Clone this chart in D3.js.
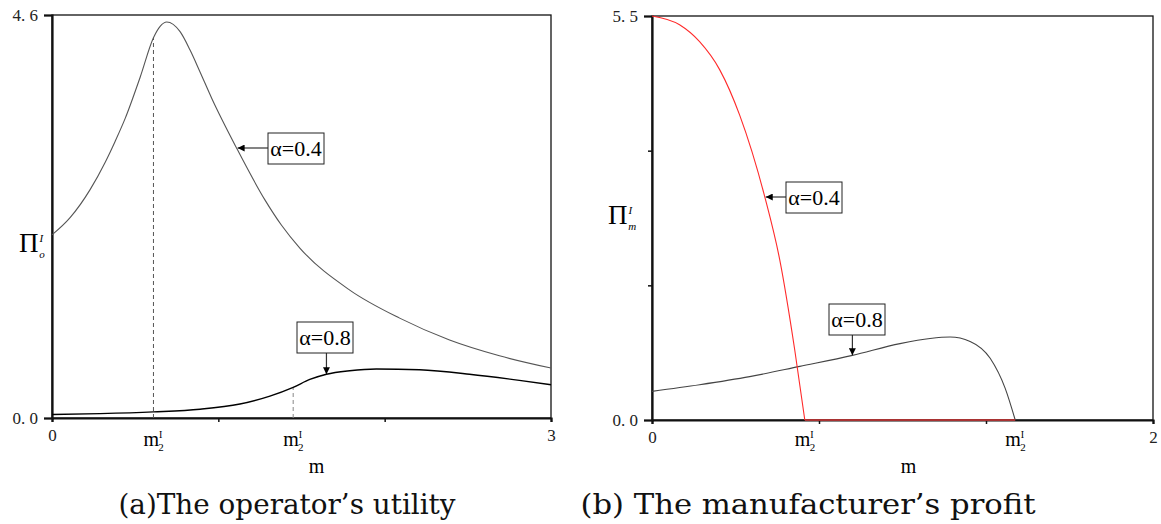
<!DOCTYPE html>
<html>
<head>
<meta charset="utf-8">
<script src="https://cdn.jsdelivr.net/npm/d3@7"></script>
<style>
  body { margin: 0; background: #fff; }
  svg { display: block; }
  .tick text { font-family: "Liberation Serif", serif; font-size: 17px; fill: #222; }
</style>
</head>
<body>
<svg id="chart" width="1161" height="524"></svg>
<script>
// (a) operator's utility, m in [0,3]
var mA04 = [0, 0.11, 0.23, 0.32, 0.38, 0.44, 0.53, 0.61, 0.65, 0.69, 0.77, 0.83, 0.89, 0.96, 1.11, 1.28, 1.38, 1.49, 1.79, 2.09, 2.39, 2.69, 3.0]
var uA04 = [2.09, 2.29, 2.61, 2.92, 3.16, 3.42, 3.89, 4.34, 4.47, 4.52, 4.41, 4.20, 3.95, 3.65, 3.08, 2.49, 2.20, 1.94, 1.46, 1.14, 0.89, 0.71, 0.57]
var mA08 = [0, 0.29, 0.61, 0.89, 1.13, 1.31, 1.45, 1.55, 1.65, 1.79, 1.95, 2.21, 2.51, 2.81, 3.0]
var uA08 = [0.04, 0.05, 0.07, 0.10, 0.16, 0.25, 0.35, 0.44, 0.50, 0.54, 0.56, 0.55, 0.50, 0.43, 0.38]
var mStarA = [0.61, 1.45]   // m2^I markers (alpha=0.4, alpha=0.8)

// (b) manufacturer's profit, m in [0,2]
var mB04 = [0, 0.11, 0.19, 0.27, 0.35, 0.45, 0.51, 0.57, 0.61]
var pB04 = [5.5, 5.38, 5.15, 4.77, 4.15, 3.04, 2.18, 0.95, 0]
var mB04zero = [0.61, 1.45]
var mB08 = [0, 0.19, 0.39, 0.59, 0.80, 0.99, 1.11, 1.19, 1.27, 1.35, 1.41, 1.45]
var pB08 = [0.39, 0.48, 0.59, 0.73, 0.88, 1.04, 1.11, 1.13, 1.07, 0.84, 0.43, 0]
var mStarB = [0.61, 1.45]

var svg = d3.select("#chart")

var defs = svg.append("defs")
defs.append("marker")
    .attr("id", "arrow")
    .attr("viewBox", "0 0 10 10")
    .attr("refX", 10).attr("refY", 5)
    .attr("markerWidth", 10).attr("markerHeight", 7)
    .attr("markerUnits", "userSpaceOnUse")
    .attr("orient", "auto")
    .append("path")
    .attr("d", "M0,0 L10,5 L0,10 z")
    .attr("fill", "#000")

function zip(xs, ys) {
    return xs.map(function (d, i) { return { m: d, v: ys[i] } })
}

function panel(cfg) {
    var x = d3.scaleLinear().domain([0, cfg.xmax]).range([cfg.left, cfg.right])
    var y = d3.scaleLinear().domain([0, cfg.ymax]).range([cfg.bottom, cfg.top])
    var g = svg.append("g")

    // frame
    g.append("rect")
        .attr("x", cfg.left).attr("y", cfg.top)
        .attr("width", cfg.right - cfg.left).attr("height", cfg.bottom - cfg.top)
        .attr("fill", "none").attr("stroke", "#111").attr("stroke-width", 1.3)

    var xt = [0, cfg.xmax / 3, cfg.xmax * 2 / 3, cfg.xmax]
    var yt = cfg.midYTicks ? [0, cfg.ymax / 3, cfg.ymax * 2 / 3, cfg.ymax] : [0, cfg.ymax]

    var xa = g.append("g")
        .attr("transform", "translate(0," + cfg.bottom + ")")
        .call(d3.axisBottom(x).tickValues(xt).tickSize(4).tickPadding(7)
            .tickFormat(function (d, i) { return (i == 0 || i == 3) ? d3.format("d")(d) : "" }))
    xa.select(".domain").attr("stroke", "#111").attr("stroke-width", 2.2)
    xa.selectAll(".tick line").attr("stroke", "#111").attr("stroke-width", 1.5)

    var ya = g.append("g")
        .attr("transform", "translate(" + cfg.left + ",0)")
        .call(d3.axisLeft(y).tickValues(yt).tickSize(8).tickPadding(6)
            .tickFormat(function (d) { return (d == 0 || d == cfg.ymax) ? d3.format(".1f")(d).replace(".", ". ") : "" }))
    ya.select(".domain").attr("stroke", "#111").attr("stroke-width", 2.2)
    ya.selectAll(".tick line").attr("stroke", "#111").attr("stroke-width", 1.5)
        .attr("x2", function (d) { return (d == 0 || d == cfg.ymax) ? -8 : -4 })

    var line = d3.line()
        .x(function (d) { return x(d.m) })
        .y(function (d) { return y(d.v) })
        .curve(d3.curveMonotoneX)

    // x label
    g.append("text")
        .attr("x", (cfg.left + cfg.right) / 2 + cfg.mdx).attr("y", 473)
        .attr("text-anchor", "middle")
        .style("font-family", "Liberation Serif, serif").style("font-size", "20px")
        .text("m")

    // y label
    var yl = g.append("text")
        .attr("x", cfg.ylx).attr("y", cfg.yly)
        .style("font-family", "Liberation Serif, serif").style("font-size", "27px")
    yl.append("tspan").text("\u03A0")
    yl.append("tspan").attr("dy", -10).attr("dx", 1).style("font-size", "11px").style("font-style", "italic").text("I")
    yl.append("tspan").attr("dy", 16).attr("dx", -4).style("font-size", "11px").style("font-style", "italic").text(cfg.sub)

    // m2^I labels
    cfg.mStar.forEach(function (d) {
        var t = g.append("text")
            .attr("x", x(d) - 10).attr("y", 446)
            .style("font-family", "Liberation Serif, serif").style("font-size", "20px")
        t.append("tspan").text("m")
        t.append("tspan").attr("dy", -8).style("font-size", "10px").text("I")
        t.append("tspan").attr("dy", 13).attr("dx", -4).style("font-size", "11px").text("2")
    })

    // caption
    g.append("text")
        .attr("x", cfg.capx).attr("y", 514)
        .attr("text-anchor", "middle")
        .attr("textLength", cfg.capw).attr("lengthAdjust", "spacingAndGlyphs")
        .style("font-family", "DejaVu Serif, serif").style("font-size", "28px")
        .style("fill", "#111")
        .text(cfg.caption)

    return { g: g, x: x, y: y, line: line }
}

function label(g, bx, by, text, ax1, ay1, ax2, ay2) {
    g.append("line")
        .attr("x1", ax1).attr("y1", ay1).attr("x2", ax2).attr("y2", ay2)
        .attr("stroke", "#333").attr("stroke-width", 1.2)
        .attr("marker-end", "url(#arrow)")
    g.append("rect")
        .attr("x", bx).attr("y", by).attr("width", 56).attr("height", 31)
        .attr("fill", "#fff").attr("stroke", "#222").attr("stroke-width", 1)
    g.append("text")
        .attr("x", bx + 28).attr("y", by + 23)
        .attr("text-anchor", "middle")
        .style("font-family", "Liberation Serif, serif").style("font-size", "22px")
        .text(text)
}

// ---- panel (a)
var A = panel({ left: 52, right: 551, top: 15, bottom: 418, xmax: 3, ymax: 4.6,
    mStar: mStarA, mdx: 15, ylx: 19, yly: 252, sub: "o", midYTicks: false,
    capx: 287, capw: 337, caption: "(a)The operator\u2019s utility" })

var dA04 = zip(mA04, uA04)
var dA08 = zip(mA08, uA08)

// dashed guides
A.g.append("line")
    .attr("x1", A.x(mStarA[0])).attr("x2", A.x(mStarA[0]))
    .attr("y1", A.y(0)).attr("y2", A.y(4.34))
    .attr("stroke", "#555").attr("stroke-dasharray", "4,3")
A.g.append("line")
    .attr("x1", A.x(mStarA[1])).attr("x2", A.x(mStarA[1]))
    .attr("y1", A.y(0)).attr("y2", A.y(0.35))
    .attr("stroke", "#888").attr("stroke-dasharray", "4,3")

A.g.append("path").datum(dA04)
    .attr("d", A.line).attr("fill", "none").attr("stroke", "#555").attr("stroke-width", 1.1)
A.g.append("path").datum(dA08)
    .attr("d", A.line).attr("fill", "none").attr("stroke", "#000").attr("stroke-width", 1.4)

label(A.g, 268, 133, "\u03B1=0.4", 268, 148, A.x(1.11) + 1, 148)
label(A.g, 297, 322, "\u03B1=0.8", A.x(1.65), 353, A.x(1.65), A.y(0.50))

// ---- panel (b)
var B = panel({ left: 652, right: 1153, top: 16, bottom: 420, xmax: 2, ymax: 5.5,
    mStar: mStarB, mdx: 6, ylx: 608, yly: 224, sub: "m", midYTicks: true,
    capx: 808, capw: 455, caption: "(b) The manufacturer\u2019s profit" })

B.g.append("path").datum(zip(mB08, pB08))
    .attr("d", B.line).attr("fill", "none").attr("stroke", "#444").attr("stroke-width", 1.1)
B.g.append("path").datum(zip(mB04zero, [0, 0]))
    .attr("d", B.line).attr("fill", "none").attr("stroke", "#a83232").attr("stroke-width", 2.2)
B.g.append("path").datum(zip(mB04, pB04))
    .attr("d", B.line).attr("fill", "none").attr("stroke", "#ff2a2a").attr("stroke-width", 1.1)

label(B.g, 786, 182, "\u03B1=0.4", 786, 197, B.x(0.45) + 1, 197)
label(B.g, 829, 304, "\u03B1=0.8", B.x(0.80), 335, B.x(0.80), B.y(0.88))
</script>
</body>
</html>
